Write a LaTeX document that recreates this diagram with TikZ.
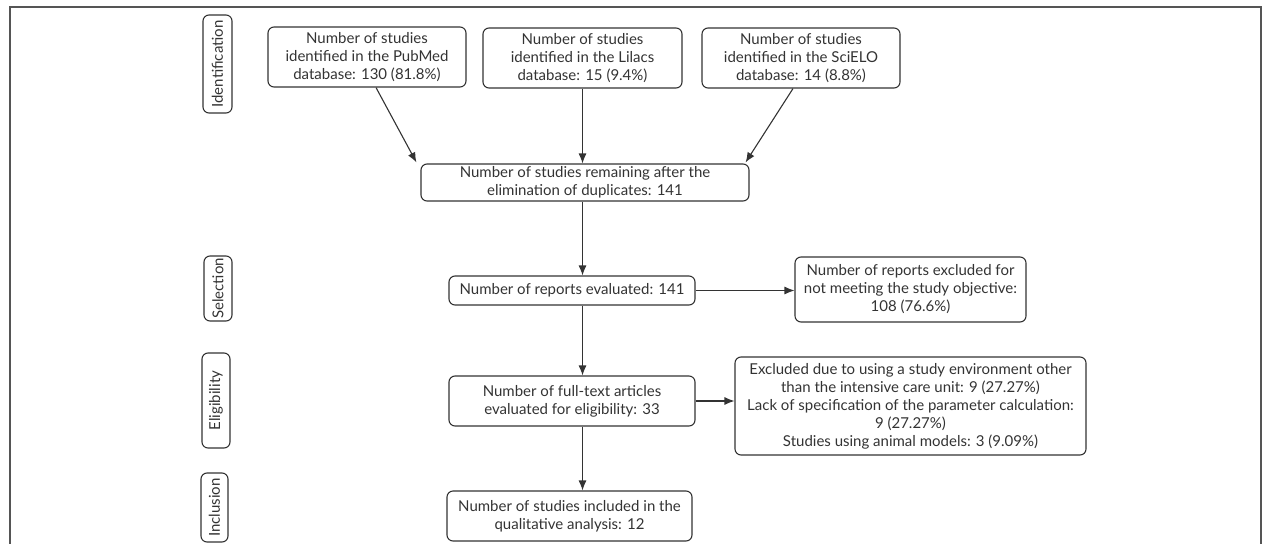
\documentclass[tikz,border=0pt]{standalone}
\usepackage{fontspec}
\setmainfont{Lato}
\usetikzlibrary{arrows.meta,calc}
\definecolor{txt}{HTML}{333333}
\definecolor{frm}{HTML}{555555}
\tikzset{
  box/.style={draw=txt, line width=1.1pt, rounded corners=6pt, align=center, text=txt,
    font=\fontsize{15}{18}\selectfont, inner sep=0pt},
  lab/.style={box, rotate=90},
  arr/.style={draw=txt, line width=1.1pt, -{Latex[length=10pt,width=8pt]}},
}
\begin{document}
\begin{tikzpicture}[x=1pt,y=-1pt]
\useasboundingbox (0,0) rectangle (1265,543);
\draw[frm, line width=1.3pt] (10,545) -- (10,7) -- (1261,7) -- (1261,545);
% stage labels
\node[lab, minimum width=98pt, minimum height=29pt] (idlab) at (217.5,64) {Identification};
\node[lab, minimum width=65pt, minimum height=28pt] (sellab) at (218,288.5) {Selection};
\node[lab, minimum width=95pt, minimum height=28pt] (eliglab) at (216,400.5) {Eligibility};
\node[lab, minimum width=69pt, minimum height=27pt] (inclab) at (214.5,507.5) {Inclusion};
% boxes
\node[box, minimum width=198pt, minimum height=60pt] (pub) at (367,57) {Number of studies\\identified in the PubMed\\database: 130 (81.8\%)};
\node[box, minimum width=199pt, minimum height=60pt] (lil) at (582.5,58) {Number of studies\\identified in the Lilacs\\database: 15 (9.4\%)};
\node[box, minimum width=198pt, minimum height=60pt] (sci) at (801,58) {Number of studies\\identified in the SciELO\\database: 14 (8.8\%)};
\node[box, minimum width=328pt, minimum height=37pt] (dup) at (585,182.5) {Number of studies remaining after the\\elimination of duplicates: 141};
\node[box, minimum width=246pt, minimum height=29pt] (rep) at (572,290.5) {Number of reports evaluated: 141};
\node[box, minimum width=246pt, minimum height=50pt] (full) at (572,401) {Number of full-text articles\\evaluated for eligibility: 33};
\node[box, minimum width=245pt, minimum height=50pt] (inc) at (569.5,516) {Number of studies included in the\\qualitative analysis: 12};
\node[box, minimum width=231pt, minimum height=65pt] (ex1) at (910.5,289.5) {Number of reports excluded for\\not meeting the study objective:\\108 (76.6\%)};
\node[box, minimum width=351pt, minimum height=98pt] (ex2) at (910.5,406) {Excluded due to using a study environment other\\than the intensive care unit: 9 (27.27\%)\\Lack of specification of the parameter calculation:\\9 (27.27\%)\\Studies using animal models: 3 (9.09\%)};
% connectors
\coordinate (pa) at ($(pub.south)+(9,0)$);
\coordinate (pb) at ($(dup.north west)+(-4,-1)$);
\coordinate (sa) at ($(sci.south)+(-8,0)$);
\coordinate (sb) at ($(dup.north east)+(-4,-1)$);
\draw[arr] (pa) -- (pb);
\draw[arr] (sa) -- (sb);
\draw[arr] (lil.south) -- (lil.south |- dup.north);
\draw[arr] (lil.south |- dup.south) -- (lil.south |- rep.north);
\draw[arr] (lil.south |- rep.south) -- (lil.south |- full.north);
\draw[arr] (lil.south |- full.south) -- (lil.south |- inc.north);
\draw[arr] (rep.east) -- (rep.east -| ex1.west);
\draw[arr] (full.east) -- (full.east -| ex2.west);
\end{tikzpicture}
\end{document}
